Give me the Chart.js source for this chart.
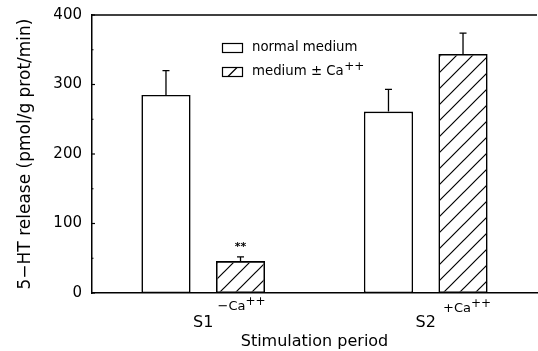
<!DOCTYPE html>
<html><head><meta charset="utf-8">
<script src="https://cdn.jsdelivr.net/npm/chart.js@4"></script>
<style>html,body{margin:0;padding:0;background:#fff;}canvas{display:block;}</style>
</head><body>
<canvas id="c" width="538" height="351"></canvas>
<script>
const categories = ['S1', 'S2'];
const normalMean = [285, 261];
const normalSem = [35, 32];
const caMean = [46, 344];
const caSem = [6, 30];
const caLabels = ['\u2212Ca', '+Ca'];
const legendLabels = ['normal medium', 'medium \u00b1 Ca'];
const yTitle = '5\u2212HT release (pmol/g prot/min)';
const xTitle = 'Stimulation period';

const FAM = '"DejaVu Sans", sans-serif';
const canvas = document.getElementById('c');
const ctx0 = canvas.getContext('2d');
const pc = document.createElement('canvas');
pc.width = 16; pc.height = 16;
const px = pc.getContext('2d');
px.strokeStyle = '#000'; px.lineWidth = 1.2;
px.beginPath();
px.moveTo(-1, 17); px.lineTo(17, -1);
px.moveTo(-5, 5); px.lineTo(5, -5);
px.moveTo(11, 21); px.lineTo(21, 11);
px.stroke();
const hatch = ctx0.createPattern(pc, 'repeat');

const extras = {
  id: 'extras',
  afterDatasetsDraw(chart) {
    const ctx = chart.ctx;
    const a = chart.chartArea;
    const ys = chart.scales.y;
    ctx.save();
    ctx.strokeStyle = '#000';
    ctx.fillStyle = '#000';
    // top frame line
    ctx.lineWidth = 1.5;
    ctx.beginPath(); ctx.moveTo(a.left, a.top); ctx.lineTo(a.right, a.top); ctx.stroke();
    // inward ticks
    ctx.lineWidth = 1.2;
    for (let v = 0; v <= 400; v += 50) {
      const y = ys.getPixelForValue(v);
      const len = v % 100 === 0 ? 3 : 1.5;
      ctx.beginPath(); ctx.moveTo(a.left, y); ctx.lineTo(a.left + len, y); ctx.stroke();
    }
    // error bars
    const sems = [normalSem, caSem];
    const means = [normalMean, caMean];
    ctx.lineWidth = 1.3;
    for (let d = 0; d < 2; d++) {
      const meta = chart.getDatasetMeta(d);
      meta.data.forEach((bar, i) => {
        const x = bar.x;
        const y0 = ys.getPixelForValue(means[d][i]);
        const y1 = ys.getPixelForValue(means[d][i] + sems[d][i]);
        ctx.beginPath(); ctx.moveTo(x, y0); ctx.lineTo(x, y1);
        ctx.moveTo(x - 3.5, y1); ctx.lineTo(x + 3.5, y1); ctx.stroke();
      });
    }
    // asterisks over S1 Ca bar
    const caMeta = chart.getDatasetMeta(1);
    const b0 = caMeta.data[0];
    ctx.font = 'bold 11px ' + FAM;
    ctx.textAlign = 'center'; ctx.textBaseline = 'middle';
    ctx.fillText('**', b0.x, ys.getPixelForValue(caMean[0] + caSem[0]) - 10);
    // Ca labels under hatched bars
    caMeta.data.forEach((bar, i) => {
      ctx.font = '13px ' + FAM;
      ctx.textAlign = 'left'; ctx.textBaseline = 'middle';
      const main = caLabels[i];
      const wMain = ctx.measureText(main).width;
      ctx.font = '12px ' + FAM;
      const wSup = ctx.measureText('++').width;
      const total = wMain + wSup;
      const off = i === 0 ? 1 : 4;
      const x0 = bar.x - total / 2 + off;
      const yb = i === 0 ? 307 : 308.5;
      ctx.font = '13px ' + FAM;
      ctx.fillText(main, x0, yb);
      ctx.font = '12px ' + FAM;
      ctx.fillText('++', x0 + wMain, yb - 5);
    });
    // legend
    ctx.lineWidth = 1.2;
    ctx.strokeRect(222.5, 43.5, 20, 9);
    ctx.strokeRect(222.5, 67.5, 20, 9);
    ctx.beginPath(); ctx.moveTo(228, 76.5); ctx.lineTo(237, 67.5); ctx.stroke();
    ctx.font = '13.3px ' + FAM;
    ctx.textAlign = 'left'; ctx.textBaseline = 'middle';
    ctx.fillText(legendLabels[0], 252, 48);
    ctx.fillText(legendLabels[1], 252, 72);
    const wl = ctx.measureText(legendLabels[1]).width;
    ctx.font = '12px ' + FAM;
    ctx.fillText('++', 252 + wl + 0.5, 67);
    ctx.restore();
  }
};

new Chart(canvas, {
  type: 'bar',
  data: {
    labels: categories,
    datasets: [
      { label: legendLabels[0], data: normalMean, backgroundColor: '#fff', borderColor: '#000', borderWidth: 1.6, borderSkipped: false,
        categoryPercentage: 0.67, barPercentage: 0.66 },
      { label: legendLabels[1] + '++', data: caMean, backgroundColor: hatch, borderColor: '#000', borderWidth: 1.6, borderSkipped: false,
        categoryPercentage: 0.67, barPercentage: 0.66 }
    ]
  },
  options: {
    responsive: false, animation: false, devicePixelRatio: 1,
    layout: { padding: { top: 15, right: 1, left: 0, bottom: 0 } },
    plugins: { legend: { display: false }, tooltip: { enabled: false } },
    scales: {
      x: {
        grid: { display: false, drawTicks: false },
        border: { display: true, color: '#000', width: 1.5 },
        ticks: { color: '#000', font: { family: FAM, size: 16 }, padding: 20 },
        title: { display: true, text: xTitle, color: '#000', font: { family: FAM, size: 16 }, padding: 0 },
        afterFit(s) { s.height = 58; }
      },
      y: {
        min: 0, max: 400,
        grid: { display: false, drawTicks: false },
        border: { display: true, color: '#000', width: 1.5 },
        ticks: { stepSize: 100, color: '#000', font: { family: FAM, size: 15 }, padding: 10 },
        title: { display: true, text: yTitle, color: '#000', font: { family: FAM, size: 17 }, padding: 15 },
        afterFit(s) { s.width = 92; s.paddingTop = 0; s.paddingBottom = 0; }
      }
    }
  },
  plugins: [extras]
});
</script>
</body></html>
